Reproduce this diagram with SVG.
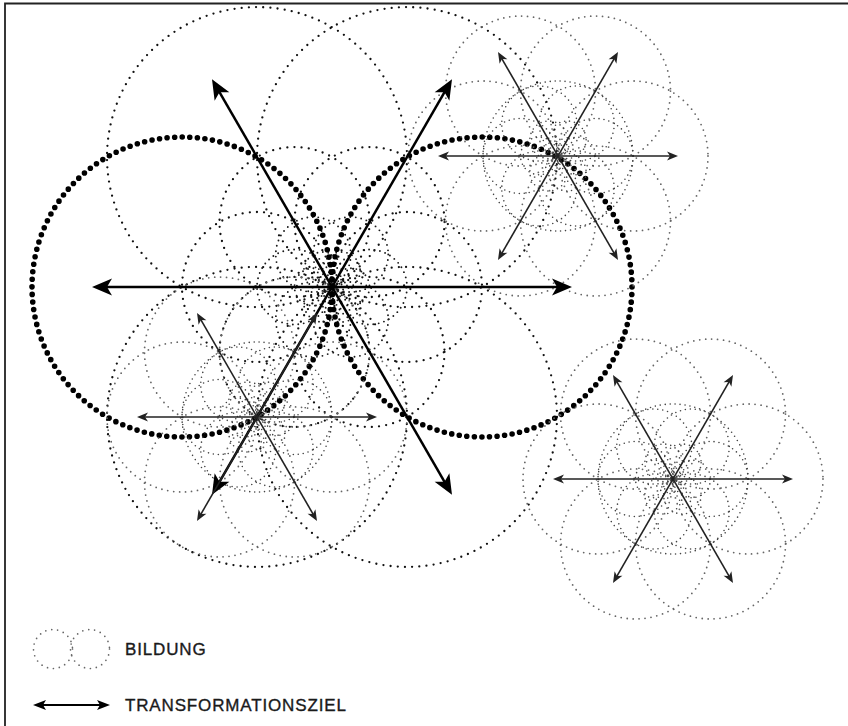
<svg xmlns="http://www.w3.org/2000/svg" xmlns:xlink="http://www.w3.org/1999/xlink" width="848" height="726" viewBox="0 0 848 726">
<style>
.dot{fill:none;stroke-linecap:round}
.thick{stroke:#000;stroke-width:5.6;stroke-dasharray:0 7.6}
.m1{stroke:#111;stroke-width:2.3;stroke-dasharray:0 7.2}
.m2{stroke:#1a1a1a;stroke-width:1.9;stroke-dasharray:0 5.5}
.s1{stroke:#666;stroke-width:1.8;stroke-dasharray:0 6}
.s2{stroke:#444;stroke-width:1.6;stroke-dasharray:0 5}
.lg{stroke:#666;stroke-width:1.7;stroke-dasharray:0 6}
.aL{stroke:#000;stroke-width:2.5;fill:none;marker-start:url(#ahL);marker-end:url(#ahL)}
.aS{stroke:#222;stroke-width:1.6;fill:none;marker-start:url(#ahS);marker-end:url(#ahS)}
.aG{stroke:#000;stroke-width:2;fill:none;marker-start:url(#ahG);marker-end:url(#ahG)}
.t{font-family:"Liberation Sans",Arial,sans-serif;font-size:17px;letter-spacing:0.85px;fill:#1a1a1a;stroke:#1a1a1a;stroke-width:0.35}
</style>
<defs>
<marker id="ahL" viewBox="-22 -10 24 20" markerWidth="24" markerHeight="20" refX="-10" refY="0" orient="auto-start-reverse" markerUnits="userSpaceOnUse"><path d="M0,0 L-20,-8.5 L-15,0 L-20,8.5 Z" fill="#000"/></marker>
<marker id="ahS" viewBox="-14 -6 16 12" markerWidth="16" markerHeight="12" refX="-5" refY="0" orient="auto-start-reverse" markerUnits="userSpaceOnUse"><path d="M0,0 L-11,-4.5 L-8,0 L-11,4.5 Z" fill="#222"/></marker>
<marker id="ahG" viewBox="-16 -7 18 14" markerWidth="18" markerHeight="14" refX="-6" refY="0" orient="auto-start-reverse" markerUnits="userSpaceOnUse"><path d="M0,0 L-13,-5 L-10,0 L-13,5 Z" fill="#000"/></marker>
<g id="hex75"><circle cx="75" cy="0" r="75"/><circle cx="37.5" cy="-64.95" r="75"/><circle cx="-37.5" cy="-64.95" r="75"/><circle cx="-75" cy="0" r="75"/><circle cx="-37.5" cy="64.95" r="75"/><circle cx="37.5" cy="64.95" r="75"/></g>
<g id="hex37"><circle cx="37.5" cy="0" r="37.5"/><circle cx="18.75" cy="-32.48" r="37.5"/><circle cx="-18.75" cy="-32.48" r="37.5"/><circle cx="-37.5" cy="0" r="37.5"/><circle cx="-18.75" cy="32.48" r="37.5"/><circle cx="18.75" cy="32.48" r="37.5"/></g>
<g id="hex18"><circle cx="18.75" cy="0" r="18.75"/><circle cx="9.375" cy="-16.24" r="18.75"/><circle cx="-9.375" cy="-16.24" r="18.75"/><circle cx="-18.75" cy="0" r="18.75"/><circle cx="-9.375" cy="16.24" r="18.75"/><circle cx="9.375" cy="16.24" r="18.75"/></g>
</defs>
<rect width="848" height="726" fill="#fff"/>
<path d="M5,726 V3.5 H848" fill="none" stroke="#222" stroke-width="1.8"/>

<g id="flower-main">
<circle class="dot m1" cx="407" cy="157.1" r="150"/>
<circle class="dot m1" cx="257" cy="157.1" r="150"/>
<circle class="dot m1" cx="257" cy="416.9" r="150"/>
<circle class="dot m1" cx="407" cy="416.9" r="150"/>
<use href="#hex75" x="332" y="287" class="dot m1"/>
<use href="#hex37" x="332" y="287" class="dot m2"/>
<use href="#hex18" x="332" y="287" class="dot m2"/>
<circle class="dot thick" cx="182" cy="287" r="150"/>
<circle class="dot thick" cx="482" cy="287" r="150"/>
</g>

<g id="flower-top-right">
<use href="#hex75" x="558" y="156" class="dot s1"/>
<circle class="dot s2" cx="558" cy="156" r="75"/>
<use href="#hex37" x="558" y="156" class="dot s2"/>
<use href="#hex18" x="558" y="156" class="dot s2"/>
</g>

<g id="flower-bottom-left">
<use href="#hex75" x="257" y="417" class="dot s1"/>
<circle class="dot s2" cx="257" cy="417" r="75"/>
<use href="#hex37" x="257" y="417" class="dot s2"/>
<use href="#hex18" x="257" y="417" class="dot s2"/>
</g>

<g id="flower-bottom-right">
<use href="#hex75" x="673" y="479" class="dot s1"/>
<circle class="dot s2" cx="673" cy="479" r="75"/>
<use href="#hex37" x="673" y="479" class="dot s2"/>
<use href="#hex18" x="673" y="479" class="dot s2"/>
</g>

<g id="connectors">
<line class="aL" x1="102" y1="287" x2="562" y2="287"/>
<line class="aL" x1="217" y1="486.2" x2="447" y2="87.8"/>
<line class="aL" x1="217" y1="87.8" x2="447" y2="486.2"/>
<line class="aS" x1="443" y1="156" x2="673" y2="156"/>
<line class="aS" x1="500.5" y1="255.6" x2="615.5" y2="56.4"/>
<line class="aS" x1="500.5" y1="56.4" x2="615.5" y2="255.6"/>
<line class="aS" x1="142" y1="417" x2="372" y2="417"/>
<line class="aS" x1="199.5" y1="516.6" x2="314.5" y2="317.4"/>
<line class="aS" x1="199.5" y1="317.4" x2="314.5" y2="516.6"/>
<line class="aS" x1="558" y1="479" x2="788" y2="479"/>
<line class="aS" x1="615.5" y1="578.6" x2="730.5" y2="379.4"/>
<line class="aS" x1="615.5" y1="379.4" x2="730.5" y2="578.6"/>
</g>

<g id="legend">
<g id="legend-bildung">
<circle class="dot lg" cx="53" cy="649" r="19.5"/>
<circle class="dot lg" cx="90" cy="649" r="19.5"/>
<text class="t" x="125" y="654.5">BILDUNG</text>
</g>
<g id="legend-transformationsziel">
<line class="aG" x1="39" y1="705" x2="104" y2="705"/>
<text class="t" x="125" y="711">TRANSFORMATIONSZIEL</text>
</g>
</g>
</svg>
